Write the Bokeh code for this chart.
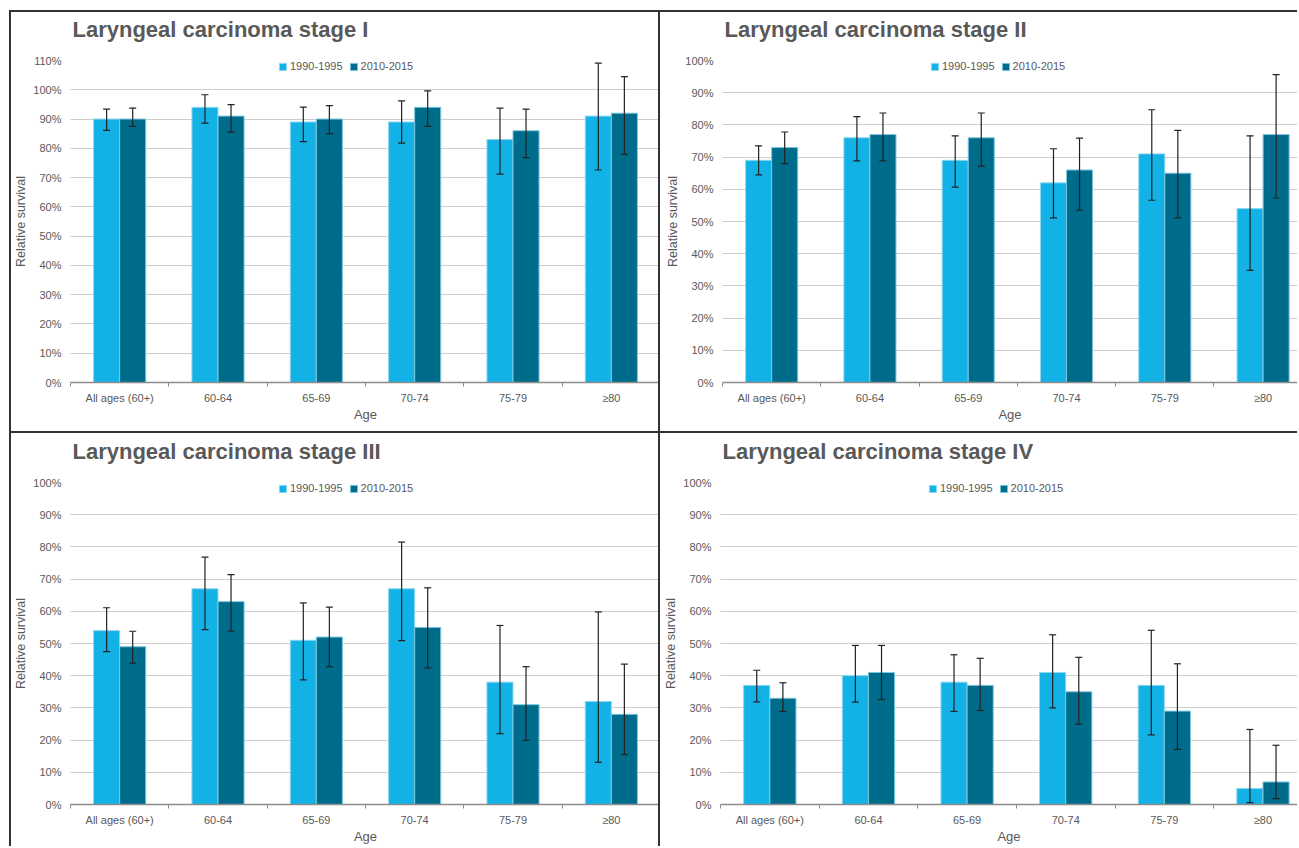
from bokeh.plotting import figure
from bokeh.models import (ColumnDataSource, Range1d, FixedTicker, PrintfTickFormatter,
                          Whisker, TeeHead, Legend, LegendItem, Title)
from bokeh.layouts import column, row
from bokeh.embed import file_html
from bokeh.resources import INLINE

ages = ["All ages (60+)", "60-64", "65-69", "70-74", "75-79", "≥80"]
periods = ["1990-1995", "2010-2015"]

titles = ["Laryngeal carcinoma stage I", "Laryngeal carcinoma stage II",
          "Laryngeal carcinoma stage III", "Laryngeal carcinoma stage IV"]

# Stage I
s1_early = [90, 94, 89, 89, 83, 91]
s1_early_lo = [86.1, 88.6, 82.3, 81.8, 71.2, 72.6]
s1_early_hi = [93.4, 98.3, 94.1, 96.2, 93.7, 109.1]
s1_late = [90, 91, 90, 94, 86, 92]
s1_late_lo = [87.5, 85.5, 85.0, 87.5, 76.8, 77.9]
s1_late_hi = [93.7, 94.9, 94.6, 99.6, 93.4, 104.5]

# Stage II
s2_early = [69, 76, 69, 62, 71, 54]
s2_early_lo = [64.5, 68.8, 60.7, 51.1, 56.6, 34.8]
s2_early_hi = [73.5, 82.6, 76.6, 72.6, 84.7, 76.6]
s2_late = [73, 77, 76, 66, 65, 77]
s2_late_lo = [68.0, 68.8, 67.2, 53.5, 51.1, 57.3]
s2_late_hi = [77.8, 83.7, 83.7, 75.9, 78.3, 95.6]

# Stage III
s3_early = [54, 67, 51, 67, 38, 32]
s3_early_lo = [47.5, 54.3, 38.7, 50.9, 22.0, 13.1]
s3_early_hi = [61.1, 76.8, 62.6, 81.5, 55.6, 59.8]
s3_late = [49, 63, 52, 55, 31, 28]
s3_late_lo = [43.9, 53.8, 42.8, 42.4, 19.9, 15.5]
s3_late_hi = [53.8, 71.4, 61.3, 67.3, 42.8, 43.6]

# Stage IV
s4_early = [37, 40, 38, 41, 37, 5]
s4_early_lo = [31.9, 31.8, 28.9, 30.0, 21.6, 0.6]
s4_early_hi = [41.7, 49.4, 46.5, 52.7, 54.1, 23.3]
s4_late = [33, 41, 37, 35, 29, 7]
s4_late_lo = [28.9, 32.6, 29.2, 24.9, 17.1, 1.8]
s4_late_hi = [37.8, 49.4, 45.4, 45.7, 43.7, 18.4]

y_max = [110, 100, 100, 100]

LIGHT = "#12B1E6"
DARK = "#006C8C"
TXT = "#595959"
FONT = "Liberation Sans"
BORDER = "2px solid #333333"

BAR_W = 0.265


def make_panel(title, early, elo, ehi, late, llo, lhi, ymax, width, height, x_end,
               mbl, mbr, mbt, mbb, styles):
    p = figure(width=width, height=height, output_backend="svg", toolbar_location=None,
               x_range=Range1d(0, x_end), y_range=Range1d(0, ymax),
               min_border_left=mbl, min_border_right=mbr,
               min_border_top=mbt, min_border_bottom=mbb)
    p.styles = styles
    p.outline_line_color = None
    p.background_fill_color = "white"
    p.border_fill_color = "white"
    frame_h = height - mbt - mbb

    # empty spacer between plotting area and chart title, then the title itself
    p.add_layout(Title(text=" ", text_font_size="10px", standoff=5), "above")
    p.add_layout(Title(text=title, text_font=FONT, text_font_size="22px",
                       text_font_style="bold", text_color=TXT, offset=2, standoff=2,
                       align="left", vertical_align="bottom"), "above")

    centers = [i + 0.5 for i in range(len(ages))]
    src_e = ColumnDataSource(dict(x=[c - BAR_W / 2 for c in centers], top=early,
                                  lo=elo, hi=ehi))
    src_l = ColumnDataSource(dict(x=[c + BAR_W / 2 for c in centers], top=late,
                                  lo=llo, hi=lhi))
    r1 = p.vbar(x="x", top="top", width=BAR_W, source=src_e, fill_color=LIGHT,
                line_color="#8fd6ee", line_width=1)
    r2 = p.vbar(x="x", top="top", width=BAR_W, source=src_l, fill_color=DARK,
                line_color="#7cc6de", line_width=1)
    for s in (src_e, src_l):
        w = Whisker(base="x", upper="hi", lower="lo", source=s,
                    line_color="#222222", line_width=1.2, level="overlay",
                    upper_head=TeeHead(size=7, line_color="#222222", line_width=1.2),
                    lower_head=TeeHead(size=7, line_color="#222222", line_width=1.2))
        p.add_layout(w)

    # axes
    xa = p.xaxis[0]
    xa.ticker = FixedTicker(ticks=centers, minor_ticks=list(range(len(ages) + 1)))
    xa.major_label_overrides = {c: a for c, a in zip(centers, ages)}
    xa.major_tick_line_color = None
    xa.major_tick_out = 0
    xa.major_tick_in = 0
    xa.minor_tick_out = 4
    xa.minor_tick_in = 0
    xa.minor_tick_line_color = "#8c8c8c"
    xa.axis_line_color = "#8c8c8c"
    xa.axis_line_width = 1.5
    xa.major_label_standoff = 5
    xa.major_label_text_font = FONT
    xa.major_label_text_font_size = "11px"
    xa.major_label_text_color = TXT
    xa.axis_label = "Age"
    xa.axis_label_text_font = FONT
    xa.axis_label_text_font_size = "13px"
    xa.axis_label_text_font_style = "normal"
    xa.axis_label_text_color = TXT
    xa.axis_label_standoff = 0

    ya = p.yaxis[0]
    ya.ticker = FixedTicker(ticks=list(range(0, ymax + 1, 10)))
    ya.formatter = PrintfTickFormatter(format="%d%%")
    ya.axis_line_color = None
    ya.major_tick_line_color = None
    ya.minor_tick_line_color = None
    ya.major_tick_out = 0
    ya.major_tick_in = 0
    ya.major_label_standoff = 9
    ya.major_label_text_font = FONT
    ya.major_label_text_font_size = "11px"
    ya.major_label_text_color = TXT
    ya.axis_label = "Relative survival"
    ya.axis_label_text_font = FONT
    ya.axis_label_text_font_size = "12.5px"
    ya.axis_label_text_font_style = "normal"
    ya.axis_label_text_color = TXT
    ya.axis_label_standoff = 2

    p.xgrid.grid_line_color = None
    p.ygrid.grid_line_color = "#9a9a9a"
    p.ygrid.grid_line_dash = "1 1"
    p.ygrid.grid_line_width = 1

    legend = Legend(items=[LegendItem(label=periods[0], renderers=[r1]),
                           LegendItem(label=periods[1], renderers=[r2])],
                    orientation="horizontal", location=(208, frame_h - 12),
                    background_fill_alpha=0, border_line_color=None,
                    glyph_width=9, glyph_height=9, label_standoff=3, spacing=6,
                    padding=0, margin=0, label_height=12,
                    label_text_font=FONT, label_text_font_size="11px",
                    label_text_color=TXT)
    p.add_layout(legend)
    return p


W_LEFT, W_RIGHT = 651, 637
H_TOP, H_BOT = 423, 413
X_END_R = 5.85

p1 = make_panel(titles[0], s1_early, s1_early_lo, s1_early_hi, s1_late, s1_late_lo, s1_late_hi,
                y_max[0], W_LEFT, H_TOP, 6, 58, 2, 48, 53,
                {"border-top": BORDER, "border-left": BORDER, "border-right": BORDER,
                 "border-bottom": BORDER})
p2 = make_panel(titles[1], s2_early, s2_early_lo, s2_early_hi, s2_late, s2_late_lo, s2_late_hi,
                y_max[1], W_RIGHT, H_TOP, X_END_R, 62, 0, 48, 53,
                {"border-top": BORDER, "border-bottom": BORDER})
p3 = make_panel(titles[2], s3_early, s3_early_lo, s3_early_hi, s3_late, s3_late_lo, s3_late_hi,
                y_max[2], W_LEFT, H_BOT, 6, 58, 2, 49, 42,
                {"border-left": BORDER, "border-right": BORDER})
p4 = make_panel(titles[3], s4_early, s4_early_lo, s4_early_hi, s4_late, s4_late_lo, s4_late_hi,
                y_max[3], W_RIGHT, H_BOT, X_END_R, 60, 0, 49, 42, {})

layout = column(row(p1, p2), row(p3, p4), margin=(10, 0, 0, 9))

open("out.html", "w").write(file_html(layout, INLINE))
